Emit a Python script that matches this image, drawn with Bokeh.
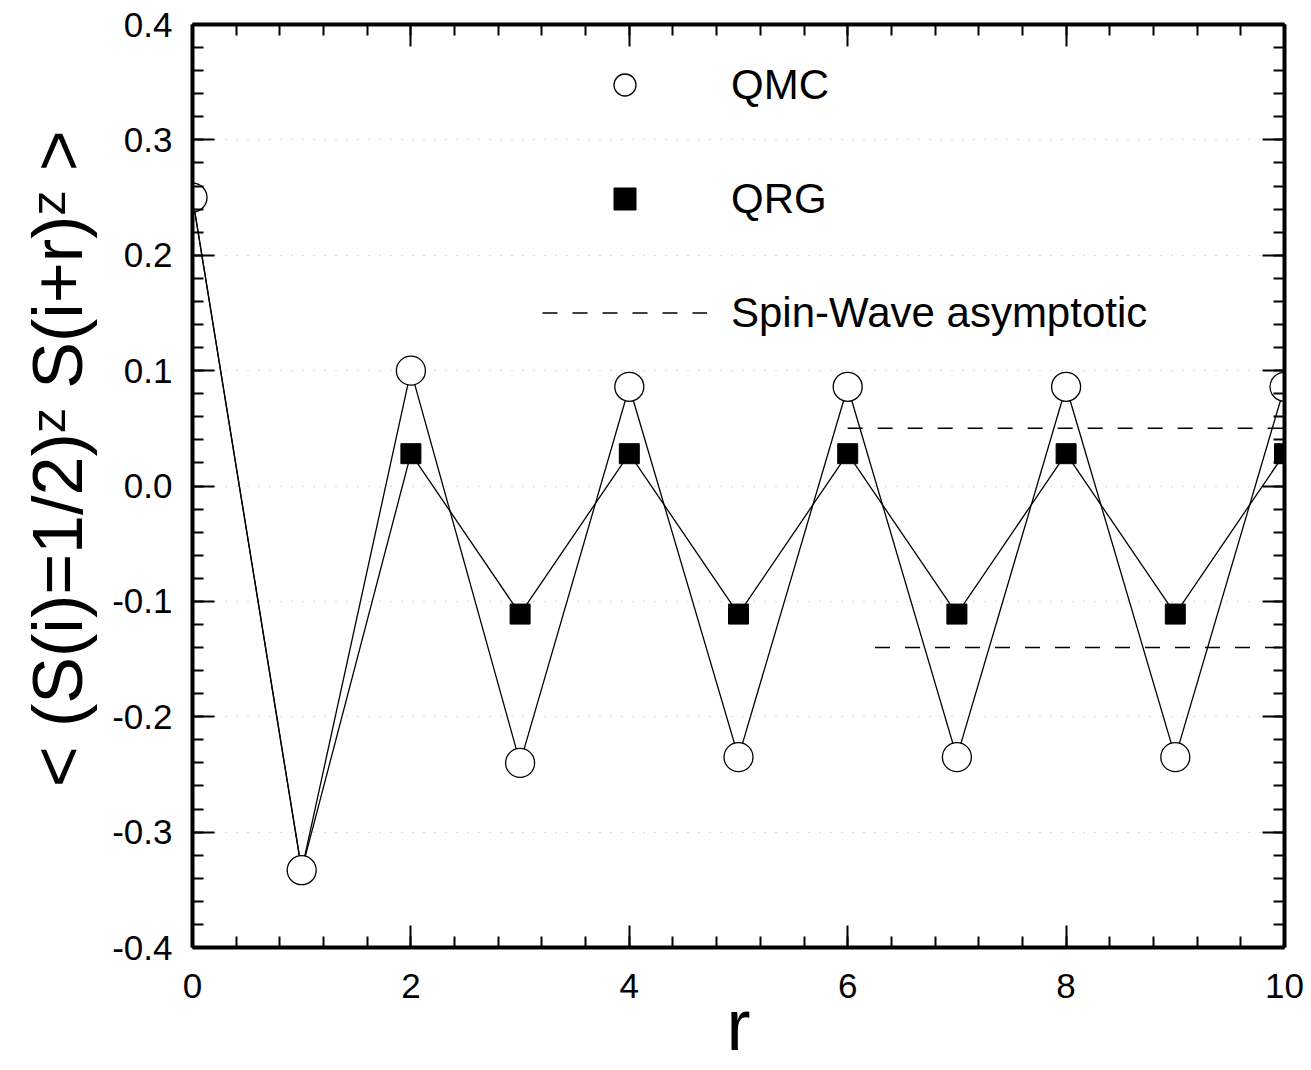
from bokeh.plotting import figure
from bokeh.models import (LinearAxis, SingleIntervalTicker, PrintfTickFormatter,
                          CustomJSTickFormatter, Legend, LegendItem, Range1d)
from bokeh.embed import file_html
from bokeh.resources import INLINE

# ---- data ----
r = [0, 1, 2, 3, 4, 5, 6, 7, 8, 9, 10]
qmc = [0.250, -0.333, 0.100, -0.240, 0.086, -0.235, 0.086, -0.235, 0.086, -0.235, 0.086]
qrg = [0.250, -0.333, 0.028, -0.111, 0.028, -0.111, 0.028, -0.111, 0.028, -0.111, 0.028]
sw_x_start = [6.0, 6.25]
sw_x_end = [10.0, 10.0]
sw_value = [0.05, -0.14]

FONT = "Liberation Sans"

p = figure(width=1305, height=1068,
           x_range=Range1d(0, 10), y_range=Range1d(-0.4, 0.4),
           output_backend="svg", toolbar_location=None,
           min_border_left=192, min_border_right=21,
           min_border_top=24, min_border_bottom=121)
p.outline_line_color = None
p.background_fill_color = "white"
p.border_fill_color = "white"

xticker = SingleIntervalTicker(interval=2, num_minor_ticks=5)
yticker = SingleIntervalTicker(interval=0.1, num_minor_ticks=5)

bottom = p.xaxis[0]
left = p.yaxis[0]
bottom.ticker = xticker
left.ticker = yticker
left.formatter = PrintfTickFormatter(format="%.1f")

top = LinearAxis(ticker=xticker, formatter=CustomJSTickFormatter(code="return ''"))
right = LinearAxis(ticker=yticker, formatter=CustomJSTickFormatter(code="return ''"))
p.add_layout(top, "above")
p.add_layout(right, "right")

for ax in [bottom, left, top, right]:
    ax.axis_line_width = 4
    ax.axis_line_color = "black"
    ax.major_tick_in = 22
    ax.major_tick_out = 0
    ax.minor_tick_in = 11
    ax.minor_tick_out = 0
    ax.major_tick_line_width = 2
    ax.minor_tick_line_width = 2
    ax.major_tick_line_color = "black"
    ax.minor_tick_line_color = "black"
    ax.major_label_text_font = FONT
    ax.major_label_text_font_size = "35px"
    ax.major_label_text_color = "black"

top.major_label_standoff = 0
right.major_label_standoff = 0

bottom.major_label_standoff = 26
left.major_label_standoff = 20

bottom.axis_label = "r"
bottom.axis_label_text_font = FONT
bottom.axis_label_text_font_size = "72px"
bottom.axis_label_text_font_style = "normal"
bottom.axis_label_text_color = "black"
bottom.axis_label_standoff = -16

left.axis_label = "\u2002\u00a0< (S(i)=1/2)ᶻ S(i+r)ᶻ >"
left.axis_label_text_font = FONT
left.axis_label_text_font_size = "70px"
left.axis_label_text_font_style = "normal"
left.axis_label_text_color = "black"
left.axis_label_standoff = 12

p.xgrid.visible = False
p.ygrid.ticker = yticker
p.ygrid.grid_line_color = "#b5b5b5"
p.ygrid.grid_line_dash = "1 10"
p.ygrid.grid_line_width = 1

# ---- glyphs ----
p.line(r, qmc, line_color="black", line_width=1.3)
p.line(r, qrg, line_color="black", line_width=1.3)
seg = p.segment(x0=sw_x_start, y0=sw_value, x1=sw_x_end, y1=sw_value,
                line_color="black", line_width=1.5, line_dash="15 15")
sq = p.scatter(r, qrg, marker="square", size=20, fill_color="black", line_color="black")
circ = p.scatter(r, qmc, marker="circle", size=29, fill_color="white",
                 line_color="black", line_width=1.3)

legend = Legend(items=[LegendItem(label="QMC", renderers=[circ]),
                       LegendItem(label="QRG", renderers=[sq]),
                       LegendItem(label="Spin-Wave asymptotic", renderers=[seg])],
                location=(350, 607), orientation="vertical",
                border_line_color=None, background_fill_alpha=0,
                padding=0, margin=0, spacing=59,
                glyph_width=165, glyph_height=55, label_height=55,
                label_standoff=24, label_text_font=FONT,
                label_text_font_size="42px", label_text_baseline="middle",
                label_text_color="black")
p.add_layout(legend)

open("out.html", "w").write(file_html(p, INLINE))
